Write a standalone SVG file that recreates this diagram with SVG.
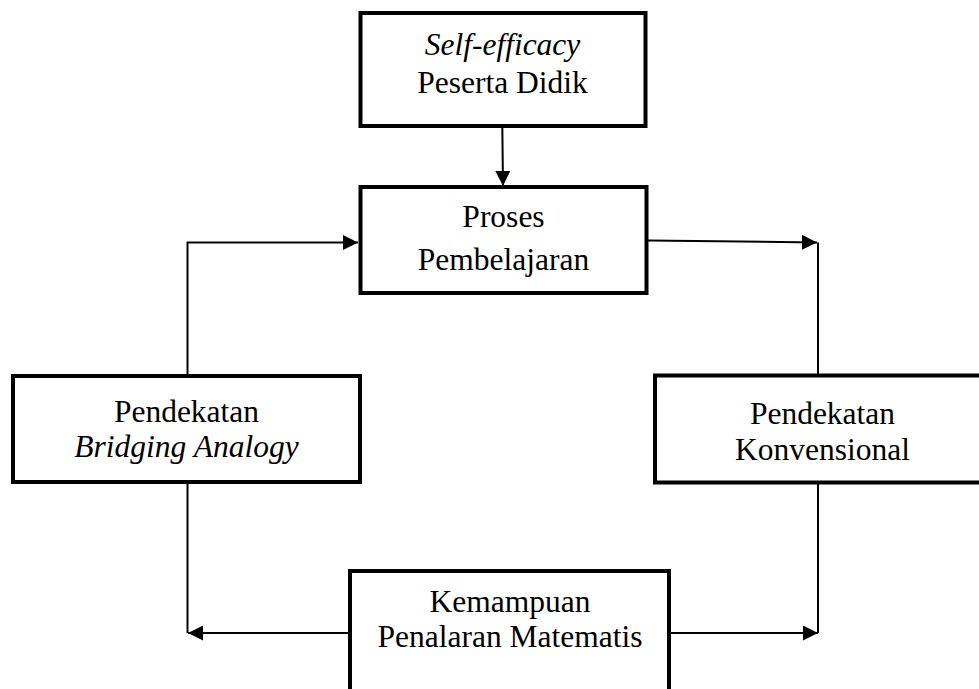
<svg xmlns="http://www.w3.org/2000/svg" width="979" height="689" viewBox="0 0 979 689">
<defs>
<style>
.box{fill:#fff;stroke:#000;stroke-width:4}
.t{font-family:"Liberation Serif","Times New Roman",serif;font-size:31.5px;fill:#000;text-anchor:middle}
.i{font-style:italic}
.c{fill:none;stroke:#000;stroke-width:2}
</style>
<marker id="ah" markerUnits="userSpaceOnUse" markerWidth="16" markerHeight="16" refX="15" refY="7.5" orient="auto">
<path d="M0,0 L15,7.5 L0,15 z" fill="#000"/>
</marker>
</defs>
<rect width="979" height="689" fill="#fff"/>
<g id="connectors">
<line class="c" x1="502" y1="100" x2="503" y2="186" marker-end="url(#ah)"/>
<polyline class="c" points="187.5,376 187.5,242.5 358,242.5" marker-end="url(#ah)"/>
<line class="c" x1="648" y1="240.5" x2="817" y2="242.5" marker-end="url(#ah)"/>
<line class="c" x1="818" y1="242.5" x2="818" y2="376"/>
<line class="c" x1="187.5" y1="483" x2="187.5" y2="633"/>
<line class="c" x1="350" y1="633" x2="188" y2="633" marker-end="url(#ah)"/>
<line class="c" x1="669" y1="633" x2="818" y2="633" marker-end="url(#ah)"/>
<line class="c" x1="818" y1="483" x2="818" y2="633"/>
</g>
<g id="self-efficacy">
<rect class="box" x="360.5" y="13" width="285" height="113"/>
<text class="t i" x="502.5" y="55">Self-efficacy</text>
<text class="t" x="502.5" y="92.5">Peserta Didik</text>
</g>
<g id="proses">
<rect class="box" x="360.5" y="187" width="286" height="106"/>
<text class="t" x="503.5" y="227">Proses</text>
<text class="t" x="503.5" y="269.5">Pembelajaran</text>
</g>
<g id="bridging">
<rect class="box" x="13" y="376" width="347" height="106"/>
<text class="t" x="186.5" y="422">Pendekatan</text>
<text class="t i" x="186.5" y="457">Bridging Analogy</text>
</g>
<g id="konvensional">
<rect class="box" x="655" y="375.5" width="336" height="107"/>
<text class="t" x="822.5" y="424">Pendekatan</text>
<text class="t" x="822.5" y="460">Konvensional</text>
</g>
<g id="kemampuan">
<rect class="box" x="350" y="571" width="319" height="140"/>
<text class="t" x="510" y="612">Kemampuan</text>
<text class="t" x="510" y="647">Penalaran Matematis</text>
</g>
</svg>
